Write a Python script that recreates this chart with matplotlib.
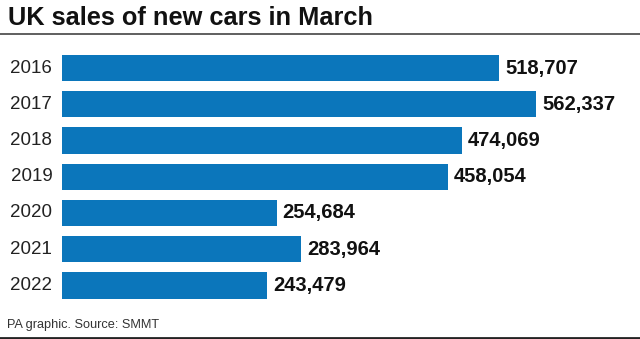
import matplotlib.pyplot as plt
from matplotlib.lines import Line2D

years = ["2016", "2017", "2018", "2019", "2020", "2021", "2022"]
sales = [518707, 562337, 474069, 458054, 254684, 283964, 243479]

bar_color = "#0b76bb"
W, H = 640, 339

plt.rcParams["font.family"] = ["Liberation Sans", "DejaVu Sans"]

fig = plt.figure(figsize=(W / 100, H / 100), dpi=100)
fig.patch.set_facecolor("white")

# axes placed in pixel terms: bars start at x=62, rows from y=50 to y=304
ax = fig.add_axes([62 / W, 1 - 303.6 / H, (W - 62) / W, 253.7 / H])
ax.barh(range(len(years)), sales, height=0.72, color=bar_color)
ax.set_xlim(0, (W - 62) / 0.000843)
ax.set_ylim(len(years) - 0.5, -0.5)
ax.axis("off")

for i, (yr, v) in enumerate(zip(years, sales)):
    ax.annotate(yr, (0, i), xytext=(-7, 0), textcoords="offset points",
                ha="right", va="center", fontsize=13.5, color="#222222")
    ax.annotate(f"{v:,}", (v, i), xytext=(4.3, 0), textcoords="offset points",
                ha="left", va="center", fontsize=14.5, fontweight="bold",
                color="#111111")

fig.text(8 / W, 1 - 18 / H, "UK sales of new cars in March", ha="left",
         va="center", fontsize=18.3, fontweight="bold", color="#111111")
fig.add_artist(Line2D([0, 1], [1 - 34 / H, 1 - 34 / H], color="#444444",
                      lw=1.2, transform=fig.transFigure))

fig.text(7 / W, 1 - 325 / H, "PA graphic. Source: SMMT", ha="left",
         va="center", fontsize=9.2, color="#333333")
fig.add_artist(Line2D([0, 1], [1 - 337.5 / H, 1 - 337.5 / H], color="#222222",
                      lw=2, transform=fig.transFigure))

fig.savefig("out.png", dpi=100)
